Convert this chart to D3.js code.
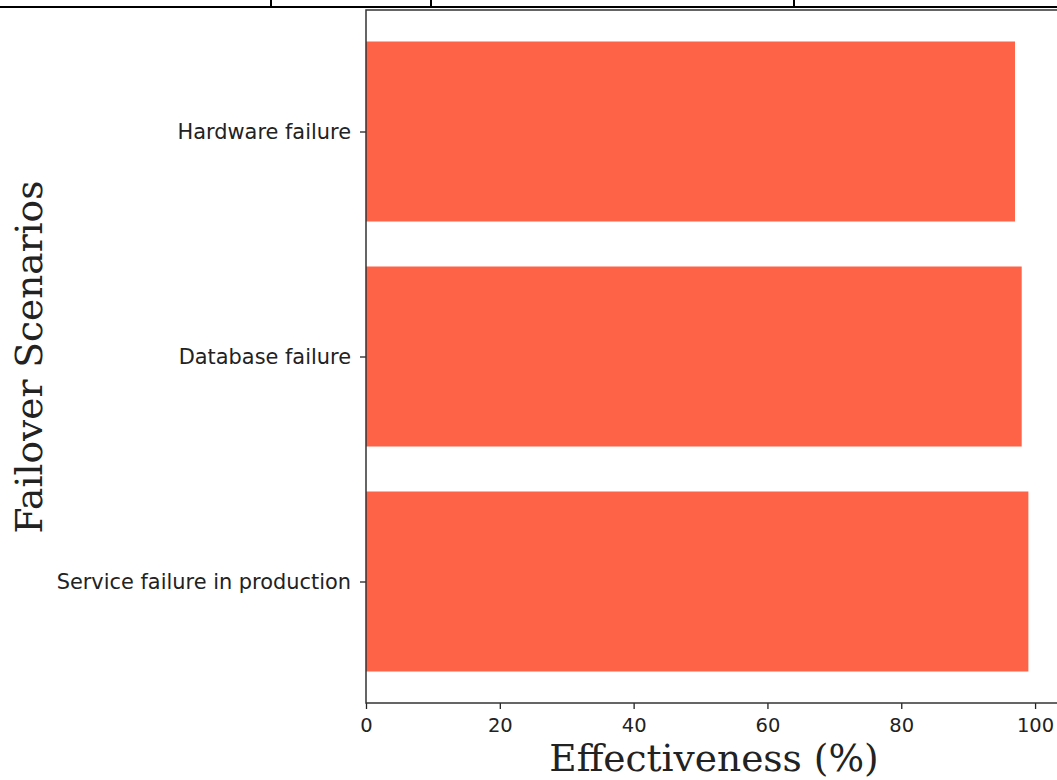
<!DOCTYPE html>
<html><head><meta charset="utf-8">
<script src="https://cdn.jsdelivr.net/npm/d3@7"></script>
<style>body{margin:0;background:#fff;}svg{display:block;}</style>
</head><body>
<svg id="c" width="1057" height="780"></svg>
<script>
const categories = ["Service failure in production", "Database failure", "Hardware failure"];
const effectiveness = [99, 98, 97];
const xTicks = [0, 20, 40, 60, 80, 100];
const xLabel = "Effectiveness (%)";
const yLabel = "Failover Scenarios";

(function () {
const svg = d3.select("#c");
const mLeft = 366, mRight = 1061.5, mTop = 10, mBottom = 703;

// partial table border above chart
const tb = svg.append("g").attr("stroke", "#000").attr("stroke-width", 2);
tb.append("line").attr("x1", 0).attr("x2", 1057).attr("y1", 7).attr("y2", 7);
[271, 431, 794].forEach(xx => tb.append("line").attr("x1", xx).attr("x2", xx).attr("y1", 0).attr("y2", 7));

const x = d3.scaleLinear().domain([0, 103.95]).range([mLeft, mRight]);
const y = d3.scaleLinear().domain([-0.54, 2.54]).range([mBottom, mTop]);

svg.append("g").selectAll("rect").data(categories).join("rect")
  .attr("x", x(0))
  .attr("y", (d, i) => y(i + 0.4))
  .attr("width", (d, i) => x(effectiveness[i]) - x(0))
  .attr("height", (d, i) => y(i - 0.4) - y(i + 0.4))
  .attr("fill", "#FF6347");

const xAxis = svg.append("g").attr("transform", `translate(0,${mBottom})`)
  .call(d3.axisBottom(x).tickValues(xTicks).tickFormat(d3.format("d")).tickSize(6).tickPadding(9));
const yAxis = svg.append("g").attr("transform", `translate(${mLeft},0)`)
  .call(d3.axisLeft(y).tickValues([0, 1, 2]).tickFormat(i => categories[i]).tickSize(6).tickPadding(9));
[xAxis, yAxis].forEach(a => {
  a.selectAll("text").attr("font-family", "DejaVu Sans").attr("font-size", 20.9).attr("fill", "#222");
  a.selectAll("line").attr("stroke", "#222").attr("stroke-width", 1.3);
  a.select(".domain").remove();
});
xAxis.selectAll("text").attr("font-size", 19.5);

const sp = svg.append("g").attr("stroke", "#333").attr("stroke-width", 1.5).attr("fill", "none");
sp.append("rect").attr("x", mLeft).attr("y", mTop).attr("width", mRight - mLeft).attr("height", mBottom - mTop);

svg.append("text").attr("x", 714).attr("y", 771)
  .attr("text-anchor", "middle").attr("font-family", "DejaVu Serif").attr("font-size", 37.5)
  .attr("fill", "#222").text(xLabel);
svg.append("text").attr("transform", `translate(42,357) rotate(-90)`)
  .attr("text-anchor", "middle").attr("font-family", "DejaVu Serif").attr("font-size", 37.5)
  .attr("fill", "#222").text(yLabel);
})();
</script>
</body></html>
